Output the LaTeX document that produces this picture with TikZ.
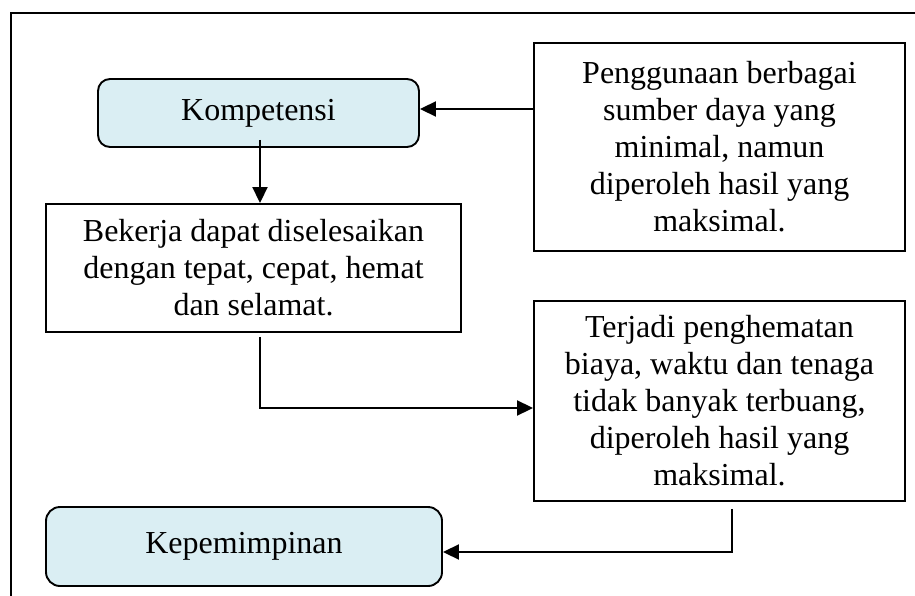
\documentclass[tikz,border=0pt]{standalone}
\usepackage{fontspec}
\setmainfont{Liberation Serif}
\usetikzlibrary{arrows.meta}
\definecolor{paleblue}{HTML}{DAEEF3}
\begin{document}
\begin{tikzpicture}[x=1pt,y=-1pt,
  every node/.style={font=\fontsize{32}{37}\selectfont, align=center, inner sep=0pt, line width=1.9pt},
  plainbox/.style={draw, rectangle},
  roundbox/.style={draw, fill=paleblue, rounded corners=12pt},
  link/.style={line width=1.9pt, -{Triangle[length=16pt,width=15pt]}}]
\useasboundingbox (0,0) rectangle (915,596);
% frame around the chart
\draw[line width=2.3pt] (11,600) -- (11,13) -- (920,13);

% boxes
\node[roundbox, minimum width=321pt, minimum height=68pt] (komp) at (258.5,113) {Kompetensi};
\node[plainbox, minimum width=371pt, minimum height=208pt] (pen) at (719.5,147)
  {Penggunaan berbagai\\sumber daya yang\\minimal, namun\\diperoleh hasil yang\\maksimal.};
\node[plainbox, minimum width=415pt, minimum height=128pt] (kerja) at (253.5,268)
  {Bekerja dapat diselesaikan\\dengan tepat, cepat, hemat\\dan selamat.};
\node[plainbox, minimum width=371pt, minimum height=200pt] (hemat) at (719.5,401)
  {Terjadi penghematan\\biaya, waktu dan tenaga\\tidak banyak terbuang,\\diperoleh hasil yang\\maksimal.};
\node[roundbox, rounded corners=14pt, minimum width=396pt, minimum height=79pt] (pimpin) at (244,546.5) {Kepemimpinan};

% connectors
\coordinate (kstart) at ([xshift=1.5pt,yshift=8pt]komp.south);
\draw[link] (kstart) -- (kstart |- kerja.north);
\draw[link] ([yshift=4pt]komp.east -| pen.west) -- ([yshift=4pt]komp.east);
\draw[link] ([xshift=6.5pt,yshift=-4pt]kerja.south) |- ([yshift=-7pt]hemat.west);
\draw[link] ([xshift=12.5pt,yshift=-7pt]hemat.south) |- ([yshift=-5.5pt]pimpin.east);
\end{tikzpicture}
\end{document}
